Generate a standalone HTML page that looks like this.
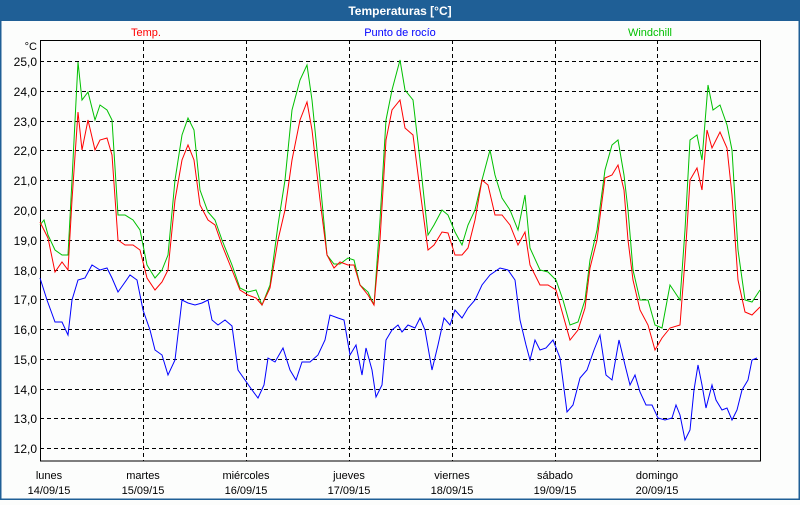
<!DOCTYPE html>
<html><head><meta charset="utf-8"><style>
body{margin:0;width:800px;height:500px;overflow:hidden;background:#fcfdfc;font-family:"Liberation Sans",sans-serif}
</style></head><body>
<svg width="800" height="500" xmlns="http://www.w3.org/2000/svg" font-family="Liberation Sans, sans-serif" font-size="11">
<rect x="0" y="0" width="800" height="500" fill="#fcfdfc"/>
<rect x="0" y="0" width="800" height="21" fill="#1f5f96"/>
<rect x="0" y="0" width="1.5" height="500" fill="#1f5f96"/>
<rect x="798.5" y="0" width="1.5" height="500" fill="#1f5f96"/>
<rect x="0" y="498.5" width="800" height="1.5" fill="#1f5f96"/>
<text x="400" y="15" text-anchor="middle" fill="#fff" font-weight="bold" font-size="12">Temperaturas [°C]</text>
<text x="146" y="36" text-anchor="middle" fill="#ff0000">Temp.</text>
<text x="400" y="36" text-anchor="middle" fill="#0000ff">Punto de rocío</text>
<text x="650" y="36" text-anchor="middle" fill="#00c000">Windchill</text>
<text x="37" y="50" text-anchor="end" fill="#000">°C</text>
<g stroke="#000" stroke-width="1" stroke-dasharray="4,3" fill="none">
<line x1="40" x2="760" y1="61.5" y2="61.5"/><line x1="40" x2="760" y1="91.5" y2="91.5"/>
<line x1="40" x2="760" y1="121.5" y2="121.5"/><line x1="40" x2="760" y1="150.5" y2="150.5"/>
<line x1="40" x2="760" y1="180.5" y2="180.5"/><line x1="40" x2="760" y1="210.5" y2="210.5"/>
<line x1="40" x2="760" y1="240.5" y2="240.5"/><line x1="40" x2="760" y1="270.5" y2="270.5"/>
<line x1="40" x2="760" y1="299.5" y2="299.5"/><line x1="40" x2="760" y1="329.5" y2="329.5"/>
<line x1="40" x2="760" y1="359.5" y2="359.5"/><line x1="40" x2="760" y1="389.5" y2="389.5"/>
<line x1="40" x2="760" y1="418.5" y2="418.5"/><line x1="40" x2="760" y1="448.5" y2="448.5"/>
<line x1="143.5" x2="143.5" y1="40" y2="461"/><line x1="246.5" x2="246.5" y1="40" y2="461"/>
<line x1="349.5" x2="349.5" y1="40" y2="461"/><line x1="452.5" x2="452.5" y1="40" y2="461"/>
<line x1="555.5" x2="555.5" y1="40" y2="461"/><line x1="657.5" x2="657.5" y1="40" y2="461"/>
</g>
<rect x="40.5" y="40.5" width="720" height="420.5" fill="none" stroke="#000" stroke-width="1"/>
<g fill="#000" text-anchor="end" font-size="12">
<text x="37" y="66">25,0</text><text x="37" y="96">24,0</text><text x="37" y="126">23,0</text>
<text x="37" y="155">22,0</text><text x="37" y="185">21,0</text><text x="37" y="215">20,0</text>
<text x="37" y="245">19,0</text><text x="37" y="275">18,0</text><text x="37" y="304">17,0</text>
<text x="37" y="334">16,0</text><text x="37" y="364">15,0</text><text x="37" y="394">14,0</text>
<text x="37" y="423">13,0</text><text x="37" y="453">12,0</text>
</g>
<g fill="#000" text-anchor="middle" font-size="11">
<text x="49" y="479">lunes</text><text x="49" y="494">14/09/15</text>
<text x="143" y="479">martes</text><text x="143" y="494">15/09/15</text>
<text x="246" y="479">miércoles</text><text x="246" y="494">16/09/15</text>
<text x="349" y="479">jueves</text><text x="349" y="494">17/09/15</text>
<text x="452" y="479">viernes</text><text x="452" y="494">18/09/15</text>
<text x="555" y="479">sábado</text><text x="555" y="494">19/09/15</text>
<text x="657" y="479">domingo</text><text x="657" y="494">20/09/15</text>
</g>
<polyline fill="none" stroke="#00c000" stroke-width="1" points="40,225 44,220 48,235 55,250 62,255 68,255 72,180 78,62 82,100 88,92 95,120 100,105 107,110 112,120 118,215 125,215 133,220 140,230 147,265 155,278 162,270 168,255 175,180 182,135 188,118 194,130 200,190 208,212 215,220 222,240 232,265 240,288 248,292 256,290 262,305 270,285 278,225 285,180 292,110 300,80 307,65 312,100 320,180 327,255 334,264 340,264 348,258 354,260 360,285 368,292 374,305 380,220 386,120 392,90 400,60 405,90 413,100 420,160 428,235 434,225 442,210 448,215 455,232 462,245 468,225 475,210 482,180 490,150 495,175 502,198 510,210 518,230 525,195 530,248 540,270 548,272 556,280 563,300 570,325 578,322 585,300 590,260 597,230 605,170 612,145 618,140 624,175 628,210 633,270 640,300 648,300 655,325 662,328 670,285 680,300 685,230 690,140 697,135 702,160 708,85 713,110 720,105 727,125 732,150 738,250 745,300 752,302 760,290"/>
<polyline fill="none" stroke="#ff0000" stroke-width="1" points="40,222 48,238 55,272 62,262 68,270 72,200 78,112 82,150 88,120 95,150 100,140 107,138 112,155 118,240 125,245 133,245 140,250 147,278 155,290 162,282 168,270 175,200 182,160 188,145 194,160 200,205 208,220 215,225 222,245 232,270 240,290 248,295 256,298 262,305 270,288 278,240 285,210 292,160 300,120 307,102 312,130 320,200 327,255 334,268 340,262 348,265 354,265 360,285 368,295 374,305 380,240 386,140 392,110 400,100 405,128 413,135 420,190 428,250 434,245 442,232 448,233 455,255 462,255 468,248 475,220 482,180 488,185 495,215 502,215 510,225 518,245 525,232 530,265 540,285 548,285 556,290 563,315 570,340 578,330 585,308 590,268 597,240 605,178 612,175 618,165 624,190 628,240 633,280 640,310 648,325 655,350 662,338 670,328 680,325 685,260 690,180 697,168 702,190 707,130 712,148 720,132 727,148 732,195 738,280 745,312 752,315 760,307"/>
<polyline fill="none" stroke="#0000ff" stroke-width="1" points="40,278 47,300 55,322 62,322 68,335 72,300 78,280 85,278 92,265 100,270 107,268 112,278 118,292 123,285 130,275 137,280 143,310 150,330 155,350 162,355 168,375 175,360 182,300 188,303 195,305 202,303 208,300 212,320 218,325 225,320 232,326 238,370 245,380 252,390 258,398 264,385 268,358 275,362 283,348 290,370 296,380 302,362 310,362 318,355 325,340 330,315 338,318 344,320 350,355 356,345 362,375 366,348 372,370 376,397 382,385 386,340 392,330 398,325 402,332 408,325 415,328 420,318 425,330 432,370 438,345 444,318 450,325 455,310 462,318 468,308 475,300 482,285 490,275 500,268 508,270 515,280 520,320 526,345 530,360 535,340 540,350 546,348 553,340 560,358 567,412 573,405 580,378 587,370 594,350 600,335 606,375 612,380 619,340 625,365 630,385 635,375 640,392 646,405 652,405 658,418 665,420 672,418 676,405 680,415 685,440 690,430 694,390 698,365 702,385 706,408 712,385 716,400 722,410 727,408 732,420 737,410 742,390 748,380 752,360 757,358"/>
</svg>
</body></html>
